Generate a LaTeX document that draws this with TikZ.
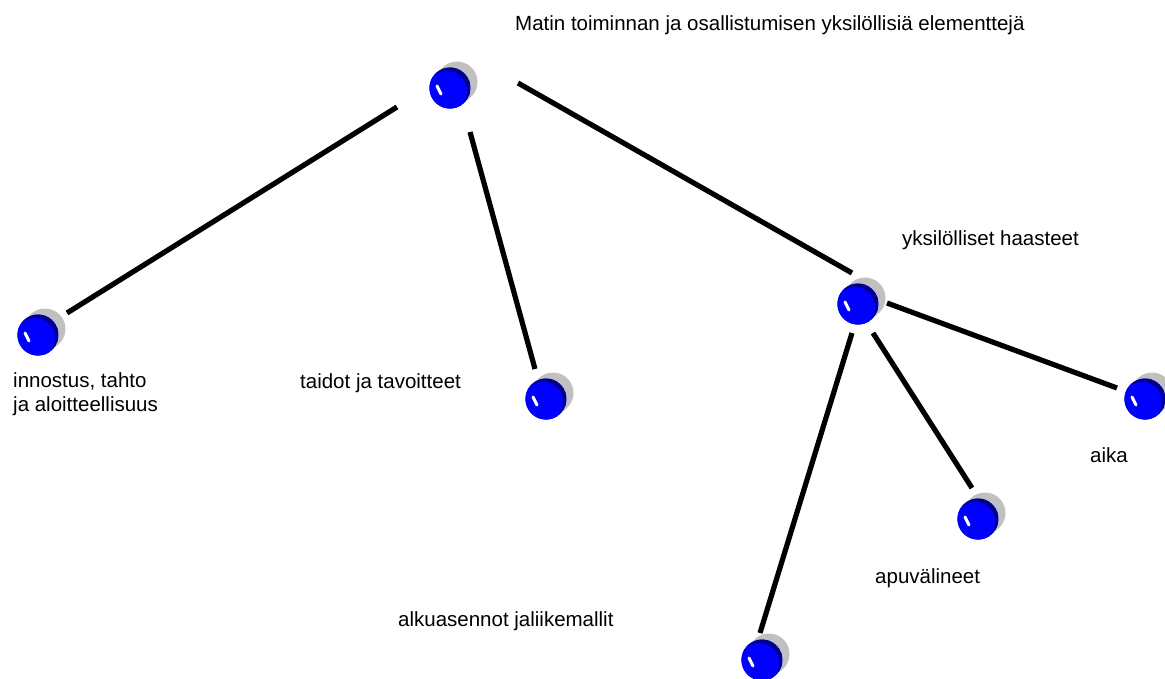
\documentclass[tikz,border=0pt]{standalone}
\usepackage{fontspec}
\setmainfont{Liberation Sans}
\usetikzlibrary{calc}
\definecolor{ballblue}{RGB}{0,0,255}
\definecolor{ballrim}{RGB}{0,0,140}
\definecolor{shadowgray}{RGB}{192,192,192}
\begin{document}
\begin{tikzpicture}[x=1pt,y=-1pt,
  ball/.style={circle, minimum size=41pt, inner sep=0pt, fill=ballblue,
    preaction={fill=shadowgray, transform canvas={shift={(7pt,6pt)}}},
    path picture={
      \fill[ballrim] (path picture bounding box.center) circle (20.5pt);
      \fill[ballblue] ([shift={(-3pt,-3pt)}]path picture bounding box.center) circle (20pt);
      \draw[white, line width=3pt, line cap=round]
        ([shift={(-13pt,2pt)}]path picture bounding box.center) --
        ([shift={(-9pt,-6pt)}]path picture bounding box.center);
    }},
  link/.style={line width=5.2pt},
  label/.style={font=\fontsize{20.5}{24}\selectfont, anchor=west, inner sep=0pt, align=left}
]
\useasboundingbox (0,0) rectangle (1165,679);
\clip (0,0) rectangle (1165,679);

% balls
\node[ball] (top)   at (450,88)  {};
\node[ball] (left)  at (38,335)  {};
\node[ball] (taito) at (546,399) {};
\node[ball] (haast) at (858,304) {};
\node[ball] (aika)  at (1145,399) {};
\node[ball] (apuv)  at (978,519) {};
\node[ball] (alku)  at (762,660) {};

% connectors
\draw[link] ([shift={(-53,19)}]top.center) -- ([shift={(29,-22)}]left.center);
\draw[link] ([shift={(20,44)}]top.center) -- ([shift={(-11,-30)}]taito.center);
\draw[link] ([shift={(68,-5)}]top.center) -- ([shift={(-6,-31)}]haast.center);
\draw[link] ([shift={(29,-1)}]haast.center) -- ([shift={(-28,-11)}]aika.center);
\draw[link] ([shift={(15,29)}]haast.center) -- ([shift={(-6,-31)}]apuv.center);
\draw[link] ([shift={(-6,29)}]haast.center) -- ([shift={(-2,-27)}]alku.center);

% labels
\node[label] (ttitle) at (515,25)  {Matin toiminnan ja osallistumisen yksilöllisiä elementtejä};
\node[label] (tleft)  at (13,394)  {innostus, tahto\\ja aloitteellisuus};
\node[label] (ttaito) at (300,383) {taidot ja tavoitteet};
\node[label] (thaast) at (902,240) {yksilölliset haasteet};
\node[label] (taika)  at (1090,455) {aika};
\node[label] (tapuv)  at (875,578) {apuvälineet};
\node[label] (talku)  at (398,621) {alkuasennot jaliikemallit};
\end{tikzpicture}
\end{document}
